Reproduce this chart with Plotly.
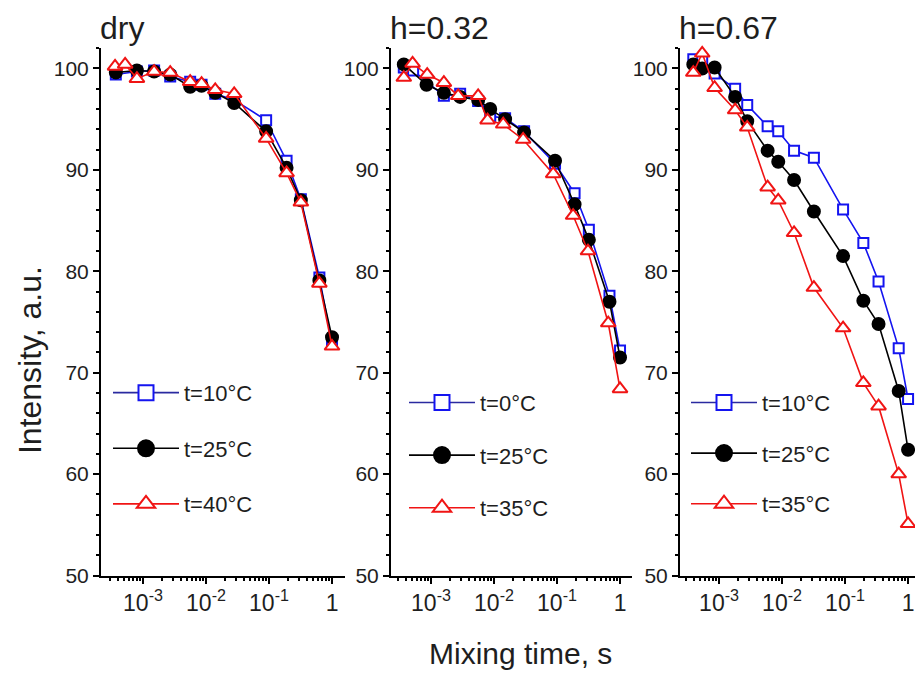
import plotly.graph_objects as go

# ---------------- data ----------------
panel_titles = ["dry", "h=0.32", "h=0.67"]
tick_vals = [1e-3, 1e-2, 1e-1, 1]
tick_text = ["10<sup>-3</sup>", "10<sup>-2</sup>", "10<sup>-1</sup>", "1"]
y_ticks = [50, 60, 70, 80, 90, 100]

# panel 1 : dry
dry_t10_x = [3.7e-4, 8e-4, 1.5e-3, 2.7e-3, 5.6e-3, 8.5e-3, 1.4e-2, 2.8e-2, 9e-2, 0.19, 0.32, 0.63, 1.0]
dry_t10_y = [99.4, 99.7, 99.8, 99.2, 98.7, 98.4, 97.5, 96.9, 94.9, 90.9, 87.1, 79.4, 72.9]
dry_t25_x = [3.7e-4, 8e-4, 1.5e-3, 2.7e-3, 5.6e-3, 8.5e-3, 1.4e-2, 2.8e-2, 9e-2, 0.19, 0.32, 0.63, 1.0]
dry_t25_y = [99.6, 99.8, 99.7, 99.4, 98.2, 98.3, 97.6, 96.6, 93.8, 90.2, 87.0, 79.1, 73.5]
dry_t40_x = [3.6e-4, 5.2e-4, 8e-4, 1.5e-3, 2.7e-3, 5.6e-3, 8.5e-3, 1.4e-2, 2.8e-2, 9e-2, 0.19, 0.32, 0.63, 1.0]
dry_t40_y = [100.2, 100.4, 99.0, 99.7, 99.6, 98.7, 98.5, 97.9, 97.5, 93.1, 89.7, 86.8, 78.8, 72.6]

# panel 2 : h=0.32
h32_t0_x = [3.7e-4, 5.2e-4, 1.6e-3, 2.9e-3, 5.6e-3, 8.7e-3, 1.5e-2, 3e-2, 9.3e-2, 0.19, 0.32, 0.68, 1.0]
h32_t0_y = [100.1, 99.8, 97.3, 97.5, 96.8, 95.3, 95.1, 93.8, 90.6, 87.7, 84.1, 77.6, 72.2]
h32_t25_x = [3.7e-4, 8.5e-4, 1.6e-3, 2.9e-3, 5.6e-3, 8.7e-3, 1.5e-2, 3e-2, 9.3e-2, 0.19, 0.32, 0.68, 1.0]
h32_t25_y = [100.4, 98.4, 97.6, 97.2, 96.9, 96.0, 95.0, 93.7, 90.9, 86.6, 83.1, 77.0, 71.5]
h32_t35_x = [3.7e-4, 5.1e-4, 8.7e-4, 1.6e-3, 2.7e-3, 5.6e-3, 7.9e-3, 1.4e-2, 2.9e-2, 8.7e-2, 0.18, 0.31, 0.65, 1.0]
h32_t35_y = [99.1, 100.5, 99.4, 98.6, 97.3, 97.3, 94.9, 94.5, 93.0, 89.6, 85.5, 82.0, 74.9, 68.4]

# panel 3 : h=0.67
h67_x = [3.9e-4, 5.4e-4, 8.5e-4, 1.8e-3, 2.8e-3, 5.9e-3, 8.7e-3, 1.55e-2, 3.2e-2, 9.3e-2, 0.195, 0.34, 0.71, 1.0]
h67_t10_y = [100.9, 100.9, 99.5, 98.0, 96.4, 94.3, 93.8, 91.9, 91.2, 86.1, 82.8, 79.0, 72.4, 67.4]
h67_t25_y = [100.4, 100.0, 100.1, 97.2, 94.8, 91.9, 90.8, 89.0, 85.9, 81.5, 77.1, 74.8, 68.2, 62.4]
h67_t35_y = [99.6, 101.5, 98.1, 95.9, 94.2, 88.3, 87.0, 83.8, 78.4, 74.4, 69.0, 66.7, 60.0, 55.1]

panels = [
    [("t=10°C", dry_t10_x, dry_t10_y), ("t=25°C", dry_t25_x, dry_t25_y), ("t=40°C", dry_t40_x, dry_t40_y)],
    [("t=0°C", h32_t0_x, h32_t0_y), ("t=25°C", h32_t25_x, h32_t25_y), ("t=35°C", h32_t35_x, h32_t35_y)],
    [("t=10°C", h67_x, h67_t10_y), ("t=25°C", h67_x, h67_t25_y), ("t=35°C", h67_x, h67_t35_y)],
]

# ---------------- style ----------------
W, H = 915, 678
BLUE, BLACK, RED = "#1414f0", "#000000", "#f01414"
LEG_BLUE = "#2a2aa0"
styles = [
    dict(color=BLUE, leg=LEG_BLUE, symbol="square", size=10, fill="white"),
    dict(color=BLACK, leg=BLACK, symbol="circle", size=12, fill=BLACK),
    dict(color=RED, leg=RED, symbol="triangle-up", size=13, fill="white"),
]
FONT = "Liberation Sans, Arial, sans-serif"
TXT = "#1e1e1e"

x_dom_px = [(101, 345), (391, 632), (680, 915)]
x_ranges = [(-3.667, 0.206), (-3.635, 0.19), (-3.62, 0.11)]
y_top_px, y_bot_px = 49, 585
legend_px = [(108, 378), (404, 388), (686, 388)]
legend_gaps = [24, 21, 19]

minor_vals = [m * 10 ** e for e in range(-4, 1) for m in range(2, 10)]

fig = go.Figure()
for p, series in enumerate(panels):
    sfx = "" if p == 0 else str(p + 1)
    leg = "legend" if p == 0 else f"legend{p + 1}"
    for s, (name, xs, ys) in enumerate(series):
        st = styles[s]
        fig.add_trace(go.Scatter(
            x=xs, y=ys, mode="lines+markers", name=name, showlegend=False,
            xaxis="x" + sfx, yaxis="y" + sfx, cliponaxis=False,
            line=dict(color=st["color"], width=1.6),
            marker=dict(symbol=st["symbol"], size=st["size"], color=st["fill"],
                        line=dict(color=st["color"], width=2)),
        ))
        # legend entry
        fig.add_trace(go.Scatter(
            x=[None], y=[None], mode="lines+markers", name=name, legend=leg,
            xaxis="x" + sfx, yaxis="y" + sfx, legendgroup=f"{p}-{s}",
            line=dict(color=st["leg"], width=1.6),
            marker=dict(symbol=st["symbol"], size=st["size"] + 5, color=st["fill"],
                        line=dict(color=st["color"], width=2)),
        ))

layout = dict(
    width=W, height=H, margin=dict(l=0, r=0, t=0, b=0),
    paper_bgcolor="white", plot_bgcolor="white",
    font=dict(family=FONT, color=TXT, size=21),
    annotations=[],
)
for p in range(3):
    sfx = "" if p == 0 else str(p + 1)
    x0, x1 = x_dom_px[p]
    layout["xaxis" + sfx] = dict(
        type="log", domain=[x0 / W, x1 / W], range=list(x_ranges[p]),
        anchor="y" + sfx, showline=True, linecolor="black", linewidth=2,
        ticks="outside", ticklen=6, tickwidth=2, tickcolor="black",
        tickvals=tick_vals, ticktext=tick_text, showgrid=False, zeroline=False,
        tickfont=dict(size=23, family=FONT, color=TXT),
        minor=dict(tickvals=minor_vals, ticks="outside", ticklen=3, tickwidth=1.5,
                   tickcolor="black", showgrid=False),
    )
    layout["yaxis" + sfx] = dict(
        domain=[1 - y_bot_px / H, 1 - y_top_px / H], range=[50, 102],
        anchor="x" + sfx, showline=True, linecolor="black", linewidth=2,
        ticks="outside", ticklen=6, tickwidth=2, tickcolor="black",
        tickvals=y_ticks, showgrid=False, zeroline=False,
        tickfont=dict(size=21, family=FONT, color=TXT),
        minor=dict(dtick=2, ticks="outside", ticklen=3, tickwidth=1.5,
                   tickcolor="black", showgrid=False),
    )
    lx, ly = legend_px[p]
    layout["legend" if p == 0 else f"legend{p + 1}"] = dict(
        x=lx / W, y=1 - ly / H, xanchor="left", yanchor="top",
        bgcolor="rgba(0,0,0,0)", font=dict(size=22, family=FONT, color=TXT),
        tracegroupgap=legend_gaps[p], itemwidth=66,
    )
    layout["annotations"].append(dict(
        text=panel_titles[p], xref="paper", yref="paper",
        x=(x0 - 3) / W, y=1 - 28 / H, xanchor="left", yanchor="middle",
        showarrow=False, font=dict(size=32, family=FONT, color=TXT),
    ))

layout["annotations"].append(dict(
    text="Intensity, a.u.", xref="paper", yref="paper", x=30 / W, y=1 - 366 / H,
    textangle=-90, showarrow=False, xanchor="center", yanchor="middle",
    font=dict(size=32, family=FONT, color=TXT)))
layout["annotations"].append(dict(
    text="Mixing time, s", xref="paper", yref="paper", x=520 / W, y=1 - 664 / H,
    showarrow=False, xanchor="center", yanchor="middle",
    font=dict(size=30, family=FONT, color=TXT)))

fig.update_layout(**layout)
fig.write_html("out.html")
